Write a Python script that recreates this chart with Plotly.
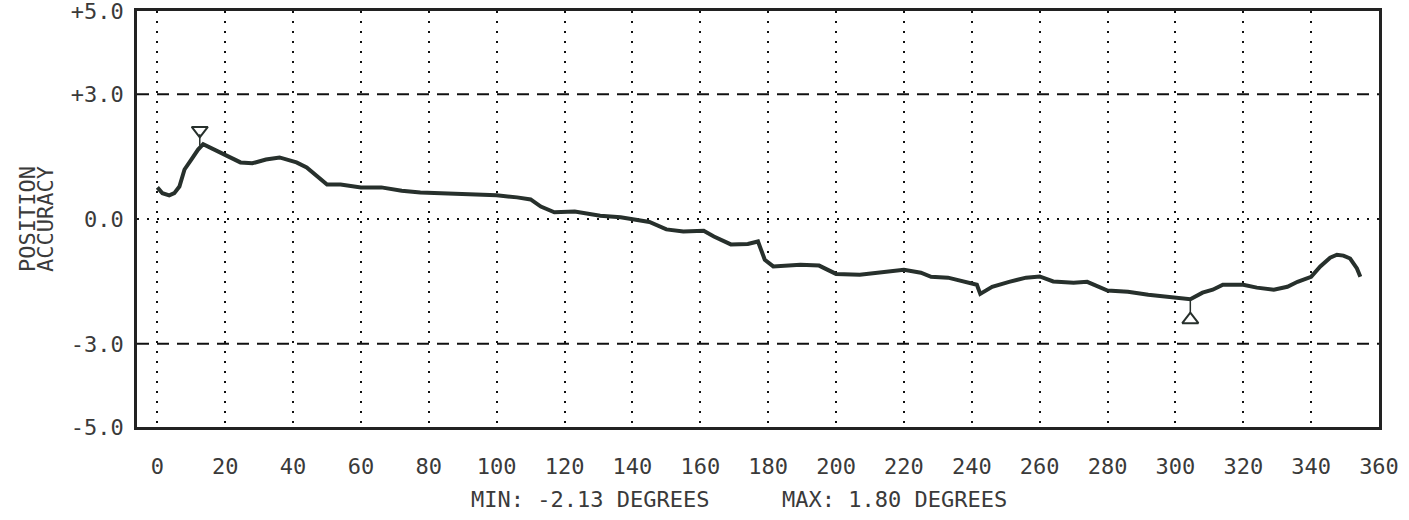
import plotly.graph_objects as go

# ---- data ----
angle_deg = [0, 1.5, 3.5, 5, 6.5, 8, 10, 12, 13.5, 16, 18.6, 20.6, 24.5, 28, 32, 36, 38, 41, 44, 47,
             50, 54, 60, 66, 72, 77.5, 82.5, 91, 100, 106, 110, 113, 117, 123, 130.5, 136.5, 142, 145,
             150, 155, 161, 164, 169, 174, 177, 179, 181.5, 189.5, 195, 200, 207, 215, 220, 225, 228,
             233, 237.5, 241.5, 242.5, 246, 251, 256, 260, 264, 270, 274, 280, 286, 292, 297.5, 304.4,
             308, 311, 314, 317, 320, 324, 329, 333, 336, 340, 342.7, 345.6, 347.6, 349.5, 351.5,
             353.5, 354.5]
accuracy = [0.76, 0.62, 0.57, 0.62, 0.78, 1.19, 1.43, 1.67, 1.80, 1.70, 1.60, 1.51, 1.36, 1.34, 1.43,
            1.48, 1.43, 1.36, 1.24, 1.02, 0.83, 0.83, 0.76, 0.76, 0.68, 0.64, 0.62, 0.59, 0.57, 0.52,
            0.47, 0.30, 0.16, 0.18, 0.08, 0.04, -0.04, -0.07, -0.25, -0.30, -0.28, -0.42, -0.61, -0.60,
            -0.54, -0.98, -1.14, -1.10, -1.12, -1.32, -1.34, -1.27, -1.22, -1.29, -1.39, -1.41, -1.51,
            -1.58, -1.80, -1.63, -1.51, -1.41, -1.38, -1.50, -1.53, -1.51, -1.72, -1.75, -1.82, -1.87,
            -1.93, -1.77, -1.70, -1.58, -1.58, -1.58, -1.65, -1.70, -1.63, -1.51, -1.39, -1.14, -0.93,
            -0.86, -0.88, -0.95, -1.19, -1.39]

x_ticks = list(range(0, 361, 20))
y_tickvals = [5, 3, 0, -3, -5]
y_ticktext = ["+5.0", "+3.0", "0.0", "-3.0", "-5.0"]

max_marker = {"x": 12.5, "y": 2.13, "stem": [2.04, 1.76]}
min_marker = {"x": 304.4, "y": -2.42, "stem": [-1.90, -2.26]}

min_text = "MIN: -2.13 DEGREES"
max_text = "MAX: 1.80 DEGREES"

FONT = "DejaVu Sans Mono"
INK = "#27302c"
TXT = "#3a3a3a"

fig = go.Figure()

fig.add_trace(go.Scatter(x=angle_deg, y=accuracy, mode="lines",
                         line=dict(color=INK, width=4), hoverinfo="skip"))

# max / min markers with stems
for m, sym in ((max_marker, "triangle-down-open"), (min_marker, "triangle-up-open")):
    fig.add_trace(go.Scatter(x=[m["x"], m["x"]], y=m["stem"], mode="lines",
                             line=dict(color=INK, width=1.5), hoverinfo="skip"))
    fig.add_trace(go.Scatter(x=[m["x"]], y=[m["y"]], mode="markers",
                             marker=dict(symbol=sym, size=14, color=INK,
                                         line=dict(color=INK, width=2)),
                             hoverinfo="skip"))

# horizontal reference lines
for yv, dash in ((3, "12px,8px"), (-3, "12px,8px"), (0, "2px,8px")):
    fig.add_shape(type="line", xref="paper", yref="y", x0=0, x1=1, y0=yv, y1=yv,
                  line=dict(color="#111", width=2, dash=dash), layer="below")

fig.add_annotation(text=min_text, x=127.6, y=-0.175, xref="x", yref="paper",
                   xanchor="center", yanchor="middle",
                   showarrow=False, font=dict(family=FONT, size=22, color=TXT))
fig.add_annotation(text=max_text, x=217.2, y=-0.175, xref="x", yref="paper",
                   xanchor="center", yanchor="middle",
                   showarrow=False, font=dict(family=FONT, size=22, color=TXT))

fig.add_annotation(text="POSITION", x=-0.0886, y=0.5, xref="paper", yref="paper",
                   xanchor="center", yanchor="middle",
                   textangle=-90, showarrow=False, font=dict(family=FONT, size=22, color=TXT))
fig.add_annotation(text="ACCURACY", x=-0.0741, y=0.5, xref="paper", yref="paper",
                   xanchor="center", yanchor="middle",
                   textangle=-90, showarrow=False, font=dict(family=FONT, size=22, color=TXT))

fig.update_layout(
    width=1409, height=520,
    margin=dict(l=137, r=30, t=11, b=93, autoexpand=False),
    paper_bgcolor="white", plot_bgcolor="white",
    showlegend=False,
    font=dict(family=FONT, size=22, color=TXT),
)
fig.update_xaxes(range=[-6, 360], tickvals=x_ticks, ticks="", showgrid=True,
                 gridcolor="#111", gridwidth=2, griddash="2px,8px",
                 showline=True, linecolor="#222", linewidth=2.5, mirror=True,
                 zeroline=False, ticklabelstandoff=18, automargin=False,
                 ticklabeloverflow="allow",
                 tickfont=dict(family=FONT, size=22, color=TXT))
fig.update_yaxes(range=[-5, 5], tickvals=y_tickvals, ticktext=y_ticktext, ticks="",
                 showgrid=False, zeroline=False, automargin=False,
                 showline=True, linecolor="#222", linewidth=2.5, mirror=True,
                 ticklabelstandoff=6, ticklabeloverflow="allow",
                 tickfont=dict(family=FONT, size=22, color=TXT))

fig.write_html("out.html", config={"displayModeBar": False},
               post_script="document.body.style.margin='0px';")
